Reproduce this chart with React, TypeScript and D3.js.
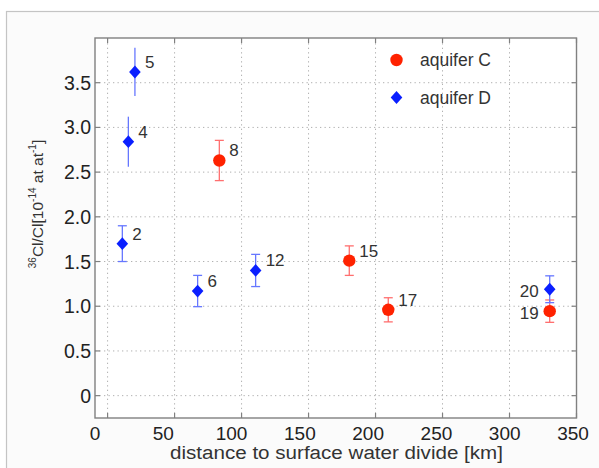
import * as d3 from 'd3';

// aquifer C (red circles)
const cLabels = ['8', '15', '17', '19'];
const cDist = [83.4, 180.4, 209.5, 330];
const cRatio = [2.63, 1.51, 0.96, 0.945];
const cErr = [0.225, 0.165, 0.135, 0.125];

// aquifer D (blue diamonds)
const dLabels = ['2', '4', '5', '6', '12', '20'];
const dDist = [11, 15.5, 20.4, 67.2, 110.5, 330];
const dRatio = [1.7, 2.84, 3.62, 1.17, 1.4, 1.19];
const dErr = [0.2, 0.28, 0.27, 0.175, 0.18, 0.15];

const xTicks = [0, 50, 100, 150, 200, 250, 300, 350];
const yTicks = [0, 0.5, 1, 1.5, 2, 2.5, 3, 3.5];
const yTickLabels = ['0', '0.5', '1.0', '1.5', '2.0', '2.5', '3.0', '3.5'];

// which labels sit on the left of their marker, which bars lack caps
const leftLabels = ['19', '20'];
const noCap = ['4', '5'];

const W = 599;
const H = 468;
const RED = '#ff2200';
const BLUE = '#0a1fff';
const FONT = 'Liberation Sans, Arial, sans-serif';

export default function App() {
  const x = d3.scaleLinear().domain([-9.4, 350]).range([95, 576.5]);
  const xLab = d3.scaleLinear().domain([0, 350]).range([95, 573]);
  const y = d3.scaleLinear().domain([-0.25, 4.0]).range([418, 38]);
  const [x0, x1] = x.range();
  const [y0, y1] = y.range();

  const diamond = 'M0,-6.4L5.8,0L0,6.4L-5.8,0Z';

  const series = [
    { name: 'C', labels: cLabels, xs: cDist, ys: cRatio, es: cErr, color: RED, bar: '#ff6f6f' },
    { name: 'D', labels: dLabels, xs: dDist, ys: dRatio, es: dErr, color: BLUE, bar: '#6677ff' },
  ];

  return (
    <>
      <style>{`body{margin:0}`}</style>
      <svg width={W} height={H} style={{ display: 'block', fontFamily: FONT }}>
        <rect x={0} y={0} width={W} height={H} fill="#fff" />
        <rect x={6.5} y={11.5} width={W} height={H} fill="#fbfbfb" stroke="#c4c4c4" strokeWidth={1.2} />
        <rect x={x0} y={y1} width={x1 - x0} height={y0 - y1} fill="#fff" />

        {/* grid */}
        {xTicks.map((t) => (
          <line key={'gx' + t} x1={x(t)} x2={x(t)} y1={y0} y2={y1} stroke="#b0b0b0" strokeDasharray="1.3,3.2" />
        ))}
        {yTicks.map((t) => (
          <line key={'gy' + t} x1={x0} x2={x1} y1={y(t)} y2={y(t)} stroke="#b0b0b0" strokeDasharray="1.3,3.2" />
        ))}

        {/* ticks on all four sides */}
        {xTicks.map((t) => (
          <g key={'tx' + t} stroke="#808080" strokeWidth={1.2}>
            <line x1={x(t)} x2={x(t)} y1={y0} y2={y0 - 5} />
            <line x1={x(t)} x2={x(t)} y1={y1} y2={y1 + 5} />
          </g>
        ))}
        {yTicks.map((t) => (
          <g key={'ty' + t} stroke="#808080" strokeWidth={1.2}>
            <line x1={x0} x2={x0 + 5} y1={y(t)} y2={y(t)} />
            <line x1={x1} x2={x1 - 5} y1={y(t)} y2={y(t)} />
          </g>
        ))}
        <rect x={x0} y={y1} width={x1 - x0} height={y0 - y1} fill="none" stroke="#808080" strokeWidth={1.4} />

        {/* tick labels */}
        {xTicks.map((t) => (
          <text key={'lx' + t} x={xLab(t)} y={440} textAnchor="middle" fontSize={19} fill="#222">
            {t}
          </text>
        ))}
        {yTicks.map((t, i) => (
          <text key={'ly' + t} x={91} y={y(t)} dy="0.36em" textAnchor="end" fontSize={19.5} fill="#222">
            {yTickLabels[i]}
          </text>
        ))}

        {/* axis titles */}
        <text x={170} y={459} fontSize={18} fill="#333" textLength={333} lengthAdjust="spacingAndGlyphs">
          distance to surface water divide [km]
        </text>
        <text transform="translate(43,204) rotate(-90)" textAnchor="middle" fontSize={15.5} fill="#333">
          <tspan fontSize={10} dy={-7}>36</tspan>
          <tspan dy={7}>Cl/Cl[10</tspan>
          <tspan fontSize={10} dy={-7}>-14</tspan>
          <tspan dy={7}> at at</tspan>
          <tspan fontSize={10} dy={-7}>-1</tspan>
          <tspan dy={7}>]</tspan>
        </text>

        {/* error bars, markers, labels */}
        {series.map((s) =>
          s.labels.map((lab, i) => {
            const cx = x(s.xs[i]);
            const cy = y(s.ys[i]);
            const top = y(s.ys[i] + s.es[i]);
            const bot = y(s.ys[i] - s.es[i]);
            const left = leftLabels.includes(lab);
            return (
              <g key={s.name + lab}>
                <line x1={cx} x2={cx} y1={top} y2={bot} stroke={s.bar} strokeWidth={1.3} />
                {!noCap.includes(lab) && (
                  <g stroke={s.bar} strokeWidth={1.3}>
                    <line x1={cx - 4.5} x2={cx + 4.5} y1={top} y2={top} />
                    <line x1={cx - 4.5} x2={cx + 4.5} y1={bot} y2={bot} />
                  </g>
                )}
                {s.name === 'C' ? (
                  <circle cx={cx} cy={cy} r={6.2} fill={s.color} />
                ) : (
                  <path d={diamond} transform={`translate(${cx},${cy})`} fill={s.color} />
                )}
                <text
                  x={left ? cx - 11 : cx + 10}
                  y={left ? cy + 8 : cy - 4}
                  textAnchor={left ? 'end' : 'start'}
                  fontSize={17}
                  fill="#333"
                >
                  {lab}
                </text>
              </g>
            );
          })
        )}

        {/* legend */}
        <circle cx={396.5} cy={60} r={6.2} fill={RED} />
        <text x={420} y={60} dy="0.35em" fontSize={17.5} fill="#333">aquifer C</text>
        <path d={diamond} transform="translate(396.5,97.5)" fill={BLUE} />
        <text x={420} y={97.5} dy="0.35em" fontSize={17.5} fill="#333">aquifer D</text>
      </svg>
    </>
  );
}
